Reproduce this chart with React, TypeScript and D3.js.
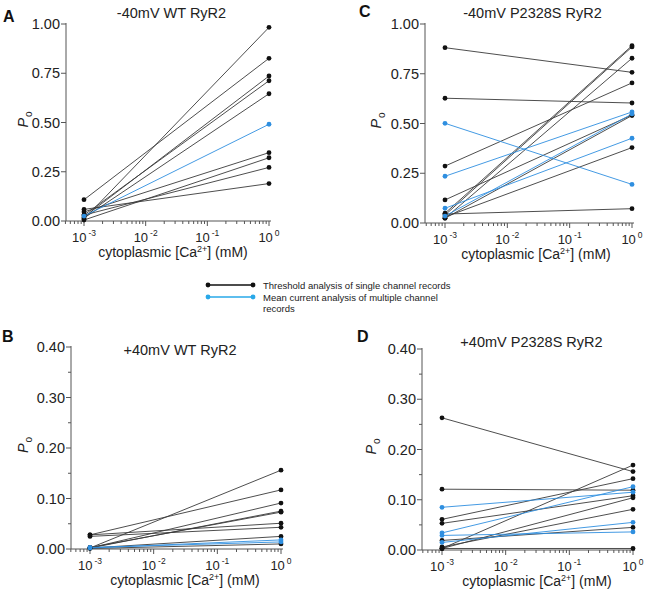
import React from 'react';
import * as d3 from 'd3';

const FONT = 'Liberation Sans, Arial, Helvetica, sans-serif';
const BLACK = '#111';
const LINE_BLACK = '#3a3a3a';
const BLUE = '#2f8fe0';

// Legend texts
const legendLabels = ['Threshold analysis of single channel records', 'Mean current analysis of multiple channel', 'records'];

// Panel A: -40mV WT RyR2  (t = threshold / single channel, m = mean current)
const aLeft = [0.108, 0.010, 0.020, 0.030, 0.015, 0.025, 0.046, 0.005, 0.030, 0.059];
const aRight = [0.826, 0.983, 0.736, 0.712, 0.646, 0.491, 0.347, 0.321, 0.272, 0.190];
const aKind = ['t', 't', 't', 't', 't', 'm', 't', 't', 't', 't'];

// Panel C: -40mV P2328S RyR2
const cLeft = [0.881, 0.627, 0.501, 0.286, 0.235, 0.116, 0.074, 0.035, 0.049, 0.024, 0.040, 0.030, 0.045, 0.024];
const cRight = [0.757, 0.603, 0.194, 0.704, 0.558, 0.543, 0.426, 0.548, 0.891, 0.828, 0.885, 0.379, 0.072, 0.540];
const cKind = ['t', 't', 'm', 't', 'm', 't', 'm', 'm', 't', 't', 't', 't', 't', 't'];

// Panel B: +40mV WT RyR2
const bLeft = [0.028, 0.028, 0.025, 0.002, 0.002, 0.002, 0.003, 0.002, 0.001, 0.002, 0.003];
const bRight = [0.117, 0.051, 0.043, 0.156, 0.091, 0.075, 0.073, 0.025, 0.010, 0.018, 0.014];
const bKind = ['t', 't', 't', 't', 't', 't', 't', 't', 't', 'm', 'm'];

// Panel D: +40mV P2328S RyR2
const dLeft = [0.263, 0.121, 0.085, 0.061, 0.053, 0.034, 0.029, 0.015, 0.019, 0.003, 0.003, 0.006, 0.003];
const dRight = [0.156, 0.119, 0.115, 0.142, 0.108, 0.126, 0.036, 0.055, 0.045, 0.169, 0.104, 0.081, 0.003];
const dKind = ['t', 't', 'm', 't', 't', 'm', 'm', 'm', 't', 't', 't', 't', 't'];

const xTickExps = [-3, -2, -1, 0];

type Geo = {
  axisX: number; x1: number; x2: number; yTop: number; yBottom: number;
  ymax: number; major: number; minor: number | null; decimals: number;
  letterX: number; letterY: number; titleY: number; yLabelX: number;
};

function Panel(props: { letter: string; title: string; left: number[]; right: number[]; kind: string[]; g: Geo }) {
  const { letter, title, left, right, kind, g } = props;
  const x = d3.scaleLog().domain([1e-3, 1]).range([g.x1, g.x2]);
  const y = d3.scaleLinear().domain([0, g.ymax]).range([g.yBottom, g.yTop]);
  const majors = d3.range(0, g.ymax + 1e-9, g.major);
  const minors = g.minor ? d3.range(g.minor, g.ymax, g.major) : [];
  const xMinor: number[] = [];
  for (let e = -4; e < 0; e++) {
    for (let k = 2; k <= 9; k++) {
      const v = k * Math.pow(10, e);
      if (v >= 5e-4 && v < 1) xMinor.push(v);
    }
  }
  const axisEnd = g.x2 + 2;
  const order = d3.range(left.length).sort((i, j) => (kind[i] === 'm' ? 1 : 0) - (kind[j] === 'm' ? 1 : 0));
  const midY = (g.yTop + g.yBottom) / 2;
  return (
    <g fontFamily={FONT}>
      <text x={g.letterX} y={g.letterY} fontSize={16} fontWeight="bold" fill={BLACK}>{letter}</text>
      <text x={(g.axisX + g.x2) / 2 + 4} y={g.titleY} fontSize={14.5} textAnchor="middle" fill="#222">{title}</text>
      {/* y axis */}
      <line x1={g.axisX} x2={g.axisX} y1={g.yTop - 1} y2={g.yBottom} stroke="#555" strokeWidth={1} />
      {majors.map((v) => (
        <g key={'ym' + v}>
          <line x1={g.axisX - 5} x2={g.axisX} y1={y(v)} y2={y(v)} stroke="#555" />
          <text x={g.axisX - 6} y={y(v)} dy="0.36em" fontSize={14.5} textAnchor="end" fill="#222">{v.toFixed(g.decimals)}</text>
        </g>
      ))}
      {minors.map((v) => (
        <line key={'yn' + v} x1={g.axisX - 3} x2={g.axisX} y1={y(v)} y2={y(v)} stroke="#555" />
      ))}
      {/* x axis */}
      <line x1={g.axisX} x2={axisEnd} y1={g.yBottom} y2={g.yBottom} stroke="#555" />
      {xMinor.map((v, i) => (
        <line key={'xn' + i} x1={x(v)} x2={x(v)} y1={g.yBottom} y2={g.yBottom + 3} stroke="#555" />
      ))}
      {xTickExps.map((e) => (
        <g key={'xm' + e}>
          <line x1={x(Math.pow(10, e))} x2={x(Math.pow(10, e))} y1={g.yBottom} y2={g.yBottom + 5} stroke="#555" />
          <text x={x(Math.pow(10, e))} y={g.yBottom + 21} fontSize={13} textAnchor="middle" fill="#222">
            10<tspan dx={2} dy={-6} fontSize={8.5}>{e === 0 ? '0' : '-' + Math.abs(e)}</tspan>
          </text>
        </g>
      ))}
      <text x={g.x2 - 96} y={g.yBottom + 36} fontSize={14} textAnchor="middle" fill="#222">
        cytoplasmic [Ca<tspan dy={-5} fontSize={9}>2+</tspan><tspan dy={5}>] (mM)</tspan>
      </text>
      <text transform={`translate(${g.yLabelX},${midY - 3}) rotate(-90)`} fontSize={14.5} textAnchor="middle" fill="#222">
        <tspan fontStyle="italic">P</tspan><tspan dy={4} dx={1} fontSize={10}>o</tspan>
      </text>
      {/* data lines */}
      {order.map((i) => (
        <line key={'l' + i} x1={x(1e-3)} x2={x(1)} y1={y(left[i])} y2={y(right[i])}
          stroke={kind[i] === 'm' ? BLUE : LINE_BLACK} strokeWidth={0.9} />
      ))}
      {order.map((i) => (
        <g key={'d' + i}>
          <circle cx={x(1e-3)} cy={y(left[i])} r={2.4} fill={kind[i] === 'm' ? BLUE : BLACK} />
          <circle cx={x(1)} cy={y(right[i])} r={2.4} fill={kind[i] === 'm' ? BLUE : BLACK} />
        </g>
      ))}
    </g>
  );
}

const geoA: Geo = { axisX: 66, x1: 84, x2: 269, yTop: 24, yBottom: 221, ymax: 1, major: 0.25, minor: null, decimals: 2, letterX: 3, letterY: 22, titleY: 18, yLabelX: 27.5 };
const geoC: Geo = { axisX: 425, x1: 445, x2: 632, yTop: 24, yBottom: 223, ymax: 1, major: 0.25, minor: null, decimals: 2, letterX: 359, letterY: 17, titleY: 18, yLabelX: 381 };
const geoB: Geo = { axisX: 71, x1: 90, x2: 281, yTop: 347, yBottom: 549, ymax: 0.4, major: 0.1, minor: 0.05, decimals: 2, letterX: 2, letterY: 342, titleY: 355, yLabelX: 28 };
const geoD: Geo = { axisX: 422, x1: 442, x2: 633, yTop: 349, yBottom: 550, ymax: 0.4, major: 0.1, minor: 0.05, decimals: 2, letterX: 357, letterY: 342, titleY: 347, yLabelX: 376 };

export default function App() {
  return (
    <svg width={646} height={594} style={{ position: 'absolute', left: 0, top: 0, background: '#fff' }}>
      <rect width={646} height={594} fill="#fff" />
      <Panel letter="A" title="-40mV WT RyR2" left={aLeft} right={aRight} kind={aKind} g={geoA} />
      <Panel letter="C" title="-40mV P2328S RyR2" left={cLeft} right={cRight} kind={cKind} g={geoC} />
      <Panel letter="B" title="+40mV WT RyR2" left={bLeft} right={bRight} kind={bKind} g={geoB} />
      <Panel letter="D" title="+40mV P2328S RyR2" left={dLeft} right={dRight} kind={dKind} g={geoD} />
      {/* legend */}
      <g fontFamily={FONT}>
        <line x1={208} x2={253} y1={285} y2={285} stroke={BLACK} strokeWidth={1.5} />
        <circle cx={208} cy={285} r={2.4} fill={BLACK} />
        <circle cx={253} cy={285} r={2.4} fill={BLACK} />
        <line x1={208} x2={253} y1={297} y2={297} stroke="#29a8e8" strokeWidth={1.5} />
        <circle cx={208} cy={297} r={2.4} fill="#29a8e8" />
        <circle cx={253} cy={297} r={2.4} fill="#29a8e8" />
        {legendLabels.map((t, i) => (
          <text key={t} x={263} y={289 + i * 11.5} fontSize={9.5} fill="#222">{t}</text>
        ))}
      </g>
    </svg>
  );
}
